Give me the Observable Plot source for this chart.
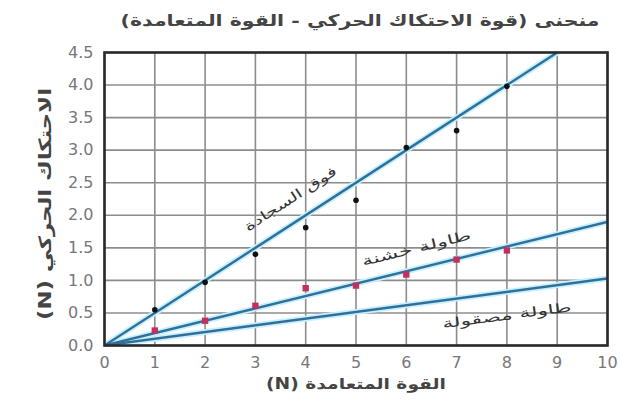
<!DOCTYPE html>
<html><head><meta charset="utf-8">
<script src="https://cdn.jsdelivr.net/npm/d3@7"></script>
<script src="https://cdn.jsdelivr.net/npm/@observablehq/plot@0.6"></script>
<style>
body{margin:0;background:#fff;width:620px;height:402px;overflow:hidden;font-family:"DejaVu Sans",sans-serif}
#title{height:35px;text-align:center;padding-left:100px;direction:rtl;font-weight:bold;font-size:16px;color:#444}
#title span{display:inline-block;transform:scaleX(1.28);margin-top:11px}
</style></head><body>
<div id="title"><span id="tt"></span></div>
<div id="chart"></div>
<script>
// measured points
const normalForce = [1, 2, 3, 4, 5, 6, 7, 8];
const carpetFriction = [0.55, 0.97, 1.4, 1.81, 2.23, 3.04, 3.3, 3.98];
const roughFriction = [0.23, 0.38, 0.61, 0.88, 0.92, 1.09, 1.32, 1.46];
// fitted lines (start/end values)
const fitX = [0, 10];
const carpetFitY = [0, 5.0];
const roughFitY = [0, 1.9];
const smoothFitY = [0, 1.03];
// ticks
const xTicks = [0,1,2,3,4,5,6,7,8,9,10];
const yTicks = [0,0.5,1,1.5,2,2.5,3,3.5,4,4.5];
// labels
const titleText = "منحنى (قوة الاحتكاك الحركي - القوة المتعامدة)";
const xLabel = "القوة المتعامدة (N)";
const yLabel = "الاحتكاك الحركي (N)";
const lineNames = ["فوق السجادة", "طاولة خشنة", "طاولة مصقولة"];
const lineLabelX = [3.7, 6.2, 8.0];
const lineLabelY = [2.25, 1.49, 0.46];
const lineLabelAngle = [-33, -14, -7.5];
const lineLabelLen = [107, 112, 130];

document.getElementById("tt").textContent = titleText;

const rtl = s => "\u202B" + s + "\u202C";
const pts = (xs, ys) => xs.map((x, i) => ({x, y: ys[i]}));
const carpetPts = pts(normalForce, carpetFriction);
const roughPts = pts(normalForce, roughFriction);
const fits = [carpetFitY, roughFitY, smoothFitY].map(ys => pts(fitX, ys));
const labels = lineNames.map((t, i) => ({t: rtl(t), x: lineLabelX[i], y: lineLabelY[i], a: lineLabelAngle[i], len: lineLabelLen[i]}));

const lineColor = "#2f6f9a";
const glow = "#c6f0fc";

const chart = Plot.plot({
  width: 620, height: 367,
  marginLeft: 104, marginRight: 13, marginTop: 17, marginBottom: 57,
  style: {fontFamily: "DejaVu Sans, sans-serif", fontSize: "16px", background: "#fff"},
  x: {domain: [0, 10]},
  y: {domain: [0, 4.5]},
  marks: [
    Plot.ruleX(xTicks, {stroke: "#8c8c8c", strokeWidth: 1.6}),
    Plot.ruleY(yTicks, {stroke: "#8c8c8c", strokeWidth: 1.6}),
    ...fits.map(f => Plot.line(f, {x: "x", y: "y", stroke: glow, strokeWidth: 6, clip: true})),
    ...fits.map(f => Plot.line(f, {x: "x", y: "y", stroke: lineColor, strokeWidth: 2.4, clip: true})),
    Plot.dot(carpetPts, {x: "x", y: "y", r: 2.8, fill: "#111", stroke: "none"}),
    Plot.dot(roughPts, {x: "x", y: "y", r: 3.6, symbol: "square", fill: "#c3305f", stroke: "none"}),
    Plot.text(labels, {x: "x", y: "y", text: "t", rotate: "a", fontSize: 13, fill: "#333", textAnchor: "middle", className: "linelabel"}),
    Plot.frame({stroke: "#2a2a2a", strokeWidth: 2.6}),
    Plot.axisX({ticks: xTicks, tickSize: 0, tickPadding: 11, tickFormat: d => String(d), fill: "#777", fontSize: 16, label: null}),
    Plot.axisY({ticks: yTicks, tickSize: 0, tickPadding: 11, tickFormat: d => d.toFixed(1), fill: "#777", fontSize: 16, label: null}),
    Plot.text([rtl(xLabel)], {frameAnchor: "bottom", dy: 43, fontSize: 15, fontWeight: "bold", fill: "#444", textAnchor: "middle", className: "xlabel"}),
    Plot.text([rtl(yLabel)], {frameAnchor: "left", dx: -59, dy: 5, rotate: -90, fontSize: 17, fontWeight: "bold", fill: "#444", textAnchor: "middle", className: "ylabel"})
  ]
});
document.getElementById("chart").appendChild(chart);
const svg = d3.select(chart);
svg.selectAll("g.xlabel text").attr("textLength", 180).attr("lengthAdjust", "spacingAndGlyphs");
svg.selectAll("g.ylabel text").attr("textLength", 232).attr("lengthAdjust", "spacingAndGlyphs");
svg.selectAll("g.linelabel text").each(function(d, i) {
  d3.select(this).attr("textLength", lineLabelLen[i]).attr("lengthAdjust", "spacingAndGlyphs");
});
</script>
</body></html>
